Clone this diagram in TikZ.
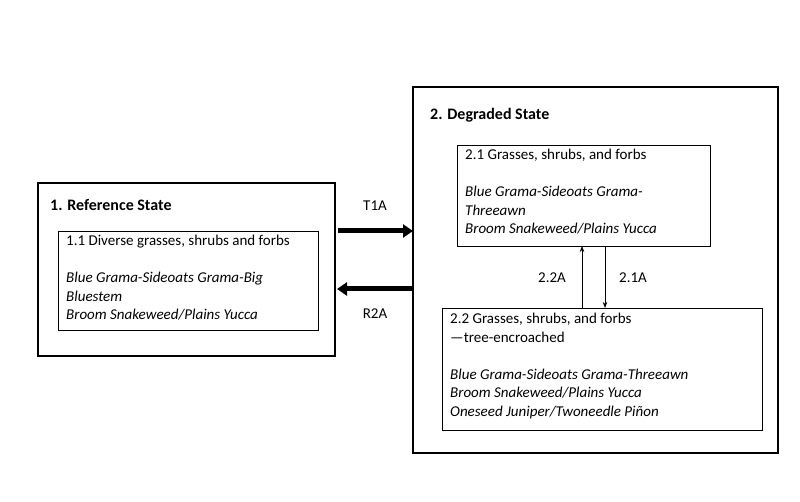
\documentclass[tikz,border=0pt]{standalone}
\usepackage{fontspec}
\setmainfont{Carlito}
\usetikzlibrary{positioning,arrows.meta}
\begin{document}
\begin{tikzpicture}[x=1pt,y=-1pt,
    state/.style={draw, line width=1.3pt},
    phase/.style={draw, line width=0.6pt},
    txt/.style={anchor=north west, inner sep=0pt, align=left, font=\fontsize{15}{18.5}\selectfont},
    big/.style={-{Triangle[length=10pt,width=13pt]}, line width=5pt},
    small/.style={-{Stealth[length=6pt]}, line width=0.7pt},
    lbl/.style={font=\fontsize{15}{18}\selectfont}
]
    \useasboundingbox (0,0) rectangle (800,502);
    % states
    \draw[state] (38,183) rectangle (335,356);
    \draw[state] (413,87) rectangle (778,453);
    \node[txt, font=\fontsize{16}{18}\selectfont\bfseries] (ref title) at (50,199) {1. Reference State};
    \node[txt, font=\fontsize{16}{18}\selectfont\bfseries] (deg title) at (430,108) {2. Degraded State};
    % phases
    \draw[phase] (58,231) rectangle (318,330);
    \draw[phase] (457,145) rectangle (710,246);
    \draw[phase] (442,308) rectangle (762,430);
    \node[txt] (p11) at (66,235) {1.1 Diverse grasses, shrubs and forbs\\[18.5pt]
        \textit{Blue Grama-Sideoats Grama-Big}\\\textit{Bluestem}\\\textit{Broom Snakeweed/Plains Yucca}};
    \node[txt] (p21) at (465,149) {2.1 Grasses, shrubs, and forbs\\[18.5pt]
        \textit{Blue Grama-Sideoats Grama-}\\\textit{Threeawn}\\\textit{Broom Snakeweed/Plains Yucca}};
    \node[txt] (p22) at (450,313) {2.2 Grasses, shrubs, and forbs\\—tree-encroached\\[18.5pt]
        \textit{Blue Grama-Sideoats Grama-Threeawn}\\\textit{Broom Snakeweed/Plains Yucca}\\\textit{Oneseed Juniper/Twoneedle Piñon}};
    % transitions
    \coordinate (t1a s) at (338,231);
    \coordinate (t1a e) at (413,231);
    \coordinate (r2a s) at (413,289);
    \coordinate (r2a e) at (337,289);
    \draw[big] (t1a s) -- (t1a e);
    \draw[big] (r2a s) -- (r2a e);
    \node[lbl] (t1a) at (375,206) {T1A};
    \node[lbl] (r2a) at (375,314) {R2A};
    \coordinate (up s) at (582,308);
    \coordinate (up e) at (582,246);
    \coordinate (dn s) at (605,246);
    \coordinate (dn e) at (605,308);
    \draw[small] (up s) -- (up e);
    \draw[small] (dn s) -- (dn e);
    \node[lbl] (a22) at (552,278) {2.2A};
    \node[lbl] (a21) at (633,278) {2.1A};
\end{tikzpicture}
\end{document}
